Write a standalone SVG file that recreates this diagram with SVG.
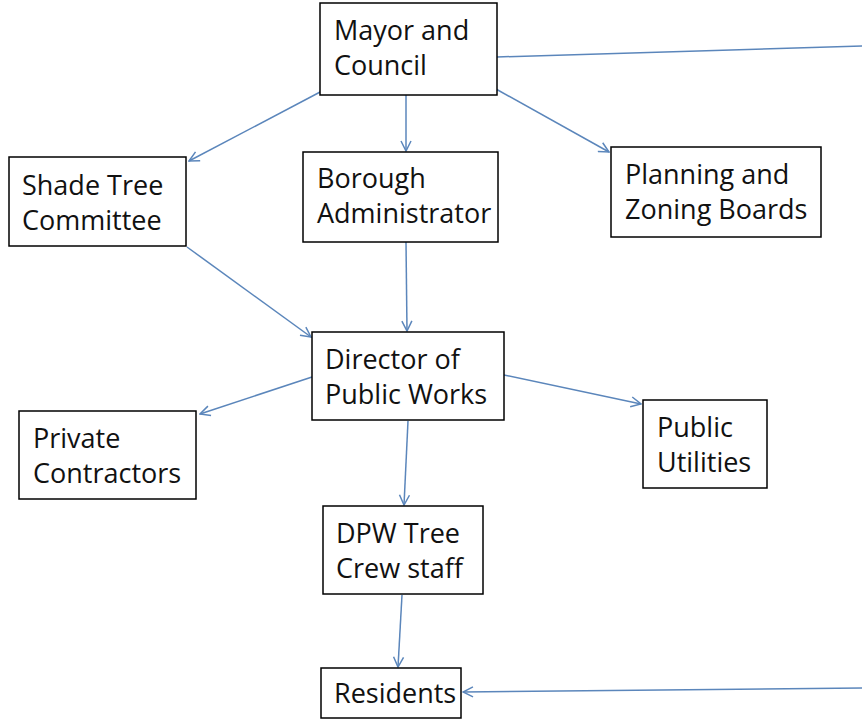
<svg xmlns="http://www.w3.org/2000/svg" width="862" height="721" viewBox="0 0 862 721">
<style>
.box{fill:#ffffff;stroke:#000000;stroke-width:1.5}
.t{font-family:"Open Sans","Noto Sans","Liberation Sans",sans-serif;font-size:27px;fill:#111111}
.c{stroke:#5b86bb;stroke-width:1.5;fill:none;marker-end:url(#ah)}
.cn{stroke:#5b86bb;stroke-width:1.5;fill:none}
</style>
<defs>
<marker id="ah" viewBox="0 0 12 12" refX="11" refY="6" markerWidth="12" markerHeight="12" markerUnits="userSpaceOnUse" orient="auto">
<path d="M1,1 L11,6 L1,11" fill="none" stroke="#5b86bb" stroke-width="1.5"/>
</marker>
</defs>
<rect width="862" height="721" fill="#ffffff"/>
<g id="connectors">
<line class="cn" x1="497" y1="57" x2="862" y2="46"/>
<line class="c" x1="322" y1="91" x2="189" y2="161"/>
<line class="c" x1="406" y1="95" x2="406" y2="151"/>
<line class="c" x1="496" y1="89" x2="609" y2="152"/>
<line class="c" x1="187" y1="247" x2="311" y2="337"/>
<line class="c" x1="406" y1="242" x2="407" y2="331"/>
<line class="c" x1="312" y1="377" x2="200" y2="414"/>
<line class="c" x1="504" y1="375" x2="641" y2="404"/>
<line class="c" x1="408" y1="421" x2="404" y2="505"/>
<line class="c" x1="402" y1="595" x2="398" y2="667"/>
<line class="c" x1="862" y1="688" x2="463" y2="692"/>
</g>
<g id="mayor">
<rect class="box" x="320" y="3" width="177" height="92"/>
<text class="t" x="334" y="40">Mayor and</text>
<text class="t" x="334" y="75">Council</text>
</g>
<g id="shade">
<rect class="box" x="9" y="157" width="177" height="89"/>
<text class="t" x="22" y="195">Shade Tree</text>
<text class="t" x="22" y="230">Committee</text>
</g>
<g id="borough">
<rect class="box" x="303" y="152" width="195" height="90"/>
<text class="t" x="317" y="188">Borough</text>
<text class="t" x="317" y="223">Administrator</text>
</g>
<g id="planning">
<rect class="box" x="611" y="147" width="210" height="90"/>
<text class="t" x="625" y="184">Planning and</text>
<text class="t" x="625" y="219">Zoning Boards</text>
</g>
<g id="director">
<rect class="box" x="312" y="332" width="192" height="88"/>
<text class="t" x="325" y="369">Director of</text>
<text class="t" x="325" y="404">Public Works</text>
</g>
<g id="private">
<rect class="box" x="19" y="411" width="177" height="88"/>
<text class="t" x="33" y="448">Private</text>
<text class="t" x="33" y="483">Contractors</text>
</g>
<g id="utilities">
<rect class="box" x="643" y="400" width="124" height="88"/>
<text class="t" x="657" y="437">Public</text>
<text class="t" x="657" y="472">Utilities</text>
</g>
<g id="dpw">
<rect class="box" x="323" y="506" width="160" height="88"/>
<text class="t" x="336" y="543">DPW Tree</text>
<text class="t" x="336" y="578">Crew staff</text>
</g>
<g id="residents">
<rect class="box" x="321" y="668" width="140" height="50"/>
<text class="t" x="334" y="703">Residents</text>
</g>
</svg>
